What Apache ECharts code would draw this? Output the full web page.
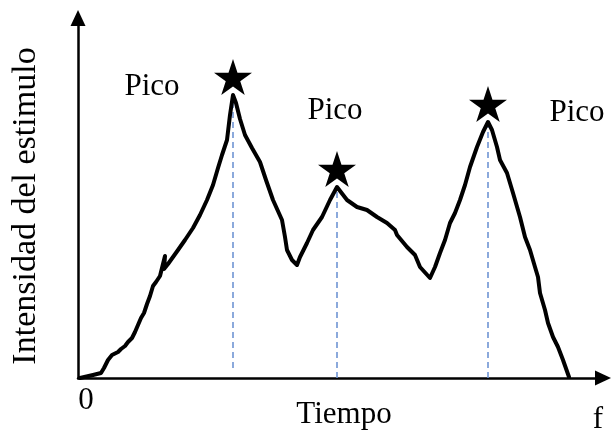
<!DOCTYPE html>
<html>
<head>
<meta charset="utf-8">
<script src="https://cdn.jsdelivr.net/npm/echarts@6/dist/echarts.min.js"></script>
<style>html,body{margin:0;padding:0;background:#fff}#c{width:611px;height:432px}</style>
</head>
<body>
<div id="c"></div>
<script>
// Time (x) and stimulus intensity (y), in chart units
var timeVals = [2,15,23,26,30,34,40,43,47,50,54,57,60,63,66,69,72,75,78,82,87,86,90,95,100,107,115,122,129,135,140,144,149,152,155,158,162,167,174,182,188,195,204,207,209,214,219,222,229,235,244,252,259,269,279,289,299,309,317,319,329,337,342,352,357,362,367,372,377,382,387,392,399,405,410,414,419,422,429,435,442,447,452,457,460,462,467,470,475,480,485,491];
var intensityVals = [0,3,5,10,18,23,26,29,32,36,40,46,53,60,65,74,82,92,96,102,122,109,114,121,128,138,150,163,178,193,210,223,238,263,283,275,259,243,230,216,198,178,158,141,128,118,113,121,135,148,161,178,191,178,171,168,161,155,148,143,131,123,111,100,111,125,138,155,165,178,193,211,231,246,256,248,231,218,205,185,161,141,128,111,101,85,68,55,41,31,18,1];
var peakTimes = [155,259,410];
var peakIntensity = [283,191,256];
var dashBottoms = [10,0,0];
var peakLabels = ['Pico','Pico','Pico'];
var xLabel = 'Tiempo';
var yLabel = 'Intensidad del estimulo';
var originLabel = '0';
var endLabel = 'f';

var curve = timeVals.map(function(t,i){return [t,intensityVals[i]];});
var peaks = peakTimes.map(function(t,i){return [t,peakIntensity[i]];});
var starPath = 'path://M100,0 L122.45,69.1 L195.1,69.1 L136.3,111.8 L158.8,180.9 L100,138.2 L41.2,180.9 L63.7,111.8 L4.9,69.1 L77.55,69.1 Z';
var font = '"Liberation Serif", "Times New Roman", serif';

var series = [];
peakTimes.forEach(function(t,i){
  series.push({type:'line', silent:true, symbol:'none', z:1,
    data:[[t,dashBottoms[i]],[t,peakIntensity[i]-3]],
    lineStyle:{color:'#6f94d3', width:1.6, type:[6,4]}});
});
series.push({type:'line', symbol:'none', z:3, data:curve,
  lineStyle:{color:'#000', width:4, join:'round', cap:'round'}});
series.push({type:'scatter', z:4, data:peaks, symbol:starPath, symbolSize:[38,36],
  symbolKeepAspect:false, symbolOffset:[0,-18], itemStyle:{color:'#000', opacity:1}});

var pos = [[152,86.5],[335,110.5],[577,112.5]];
var graphics = peakLabels.map(function(s,i){
  return {type:'text', x:pos[i][0], y:pos[i][1], style:{text:s, font:'31px '+font, fill:'#000', align:'center', verticalAlign:'middle'}};
});
graphics.push({type:'text', x:344, y:414.5, style:{text:xLabel, font:'31px '+font, fill:'#000', align:'center', verticalAlign:'middle'}});
graphics.push({type:'text', x:86, y:401, style:{text:originLabel, font:'31px '+font, fill:'#000', align:'center', verticalAlign:'middle'}});
graphics.push({type:'text', x:598, y:419.5, style:{text:endLabel, font:'31px '+font, fill:'#000', align:'center', verticalAlign:'middle'}});
graphics.push({type:'text', x:26, y:206, rotation:Math.PI/2, style:{text:yLabel, font:'34px '+font, fill:'#000', align:'center', verticalAlign:'middle'}});

var chart = echarts.init(document.getElementById('c'), null, {renderer:'canvas'});
chart.setOption({
  animation:false,
  backgroundColor:'#fff',
  grid:{left:78, right:8, top:18, bottom:54, containLabel:false},
  xAxis:{type:'value', min:0, max:525, axisLabel:{show:false}, axisTick:{show:false}, splitLine:{show:false},
    axisLine:{show:true, onZero:false, symbol:['none','triangle'], symbolSize:[15,16], lineStyle:{color:'#000', width:2.5}}},
  yAxis:{type:'value', min:0, max:360, axisLabel:{show:false}, axisTick:{show:false}, splitLine:{show:false},
    axisLine:{show:true, onZero:false, symbol:['none','triangle'], symbolSize:[15,16], lineStyle:{color:'#000', width:2.5}}},
  graphic:graphics,
  series:series
});
</script>
</body>
</html>
